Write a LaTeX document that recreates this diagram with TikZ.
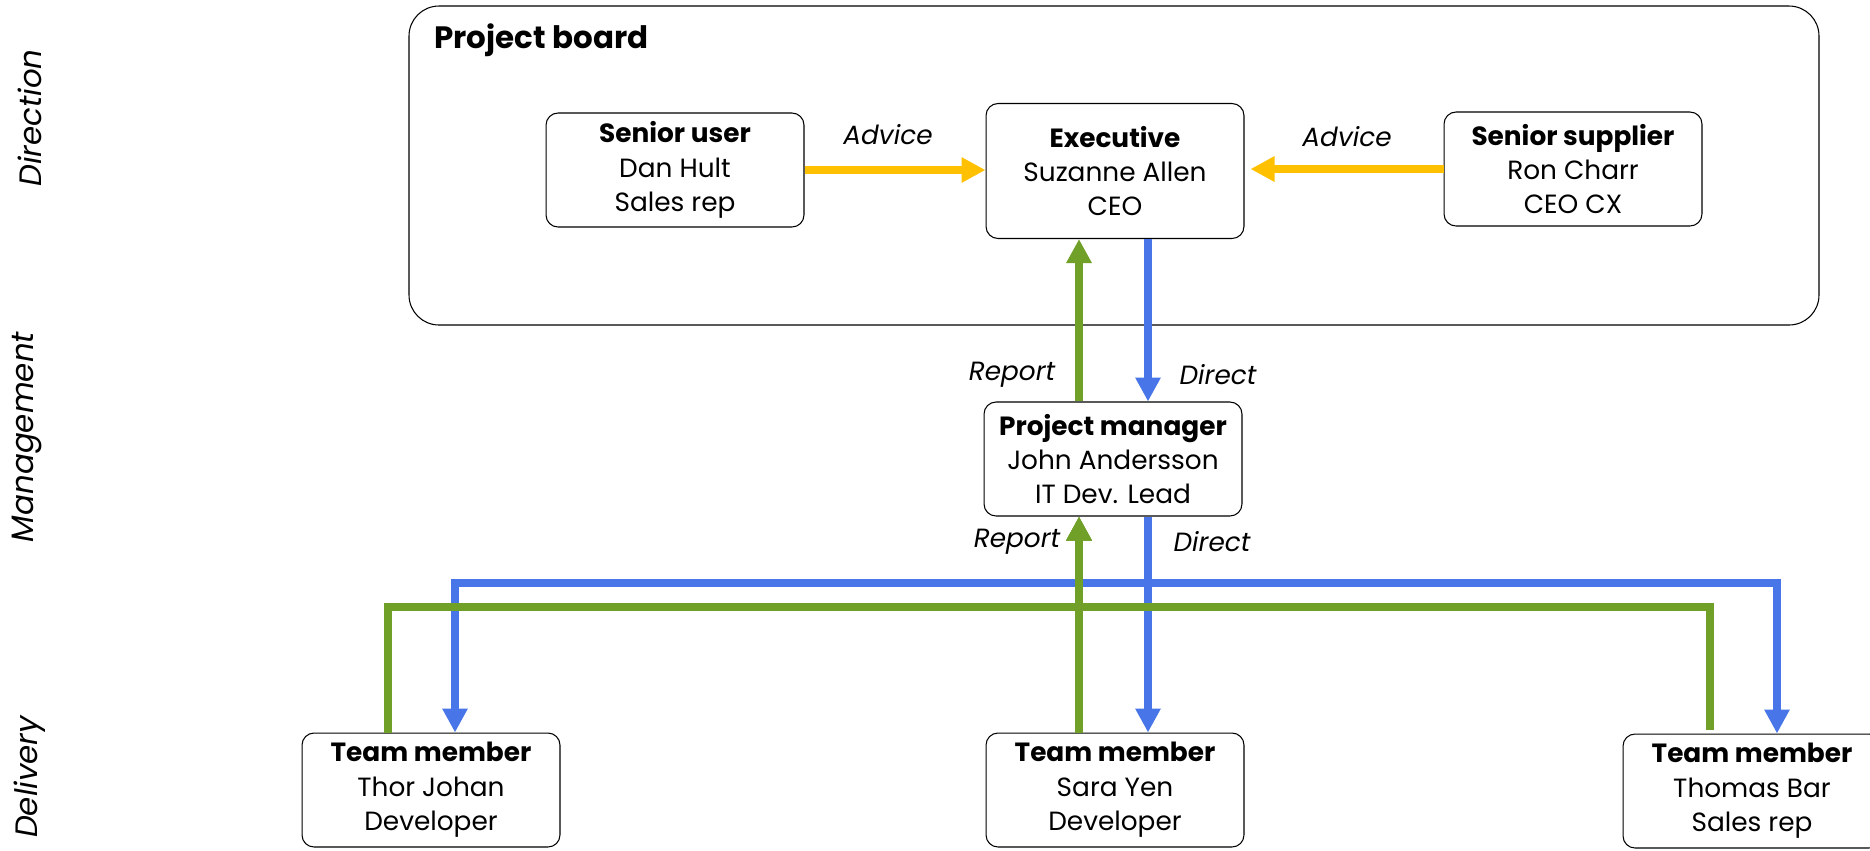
\documentclass[tikz,border=0pt]{standalone}
\usepackage{fontspec}
\setmainfont{Poppins}
\usetikzlibrary{arrows.meta}

\definecolor{advicecol}{RGB}{255,192,0}
\definecolor{reportcol}{RGB}{112,160,40}
\definecolor{directcol}{RGB}{72,118,232}

\begin{document}
\begin{tikzpicture}[x=0.02cm,y=-0.02cm,
    role/.style={draw,line width=0.6pt,rounded corners=0.24cm,align=center,
      minimum width=5.16cm,minimum height=2.28cm,inner sep=0pt,
      font=\fontsize{15}{19.6}\selectfont},
    lbl/.style={font=\fontsize{15}{16}\selectfont\itshape},
    side/.style={rotate=90,font=\fontsize{17.6}{18}\selectfont\itshape},
    link/.style={line width=0.16cm,-{Triangle[length=0.48cm,width=0.48cm]}},
    advice/.style={link,advicecol},
    report/.style={link,reportcol},
    direct/.style={link,directcol}]
    \useasboundingbox (0,0) rectangle (1870,850);

    % layers
    \node[side] (dir) at (30,118) {Direction};
    \node[side] (man) at (27,437) {Management};
    \node[side] (del) at (30,777) {Delivery};

    % project board
    \draw[line width=0.6pt,rounded corners=0.6cm] (409,6) rectangle (1819,325);
    \node[anchor=west,font=\fontsize{17.6}{18}\selectfont\bfseries] (pb) at (428,40) {Project board};

    \node[role] (su) at (675,170) {\textbf{Senior user}\\Dan Hult\\Sales rep};
    \node[role,minimum height=2.7cm] (exec) at (1115,171) {\textbf{Executive}\\Suzanne Allen\\CEO};
    \node[role] (sup) at (1573,169) {\textbf{Senior supplier}\\Ron Charr\\CEO CX};
    \node[role] (pm) at (1113,459) {\textbf{Project manager}\\John Andersson\\IT Dev. Lead};
    \node[role] (tm1) at (431,790) {\textbf{Team member}\\Thor Johan\\Developer};
    \node[role] (tm2) at (1115,790) {\textbf{Team member}\\Sara Yen\\Developer};
    \node[role] (tm3) at (1752,791) {\textbf{Team member}\\Thomas Bar\\Sales rep};

    % line positions
    \coordinate (gx) at (1079,0);
    \coordinate (bx) at (1148,0);
    \coordinate (g1) at (388,0);
    \coordinate (g3) at (1710,0);
    \coordinate (b1) at (455,0);
    \coordinate (b3) at (1777,0);
    \coordinate (gy) at (0,607);
    \coordinate (by) at (0,583);

    \draw[advice] (su.east) -- (su.east -| exec.west);
    \draw[advice] (sup.west) -- ([xshift=0.12cm]sup.west -| exec.east);
    \node[lbl] (adv1) at (888,135) {Advice};
    \node[lbl] (adv2) at (1347,137) {Advice};

    \draw[report] (pm.north -| gx) -- (exec.south -| gx);
    \draw[direct] (exec.south -| bx) -- (pm.north -| bx);
    \node[lbl] (rep1) at (1012,375) {Report};
    \node[lbl] (dir1) at (1218,375) {Direct};

    \draw[direct] (pm.south -| bx) |- (by -| b1) -- (tm1.north -| b1);
    \draw[direct] (pm.south -| bx) |- (by -| b3) -- (tm3.north -| b3);
    \draw[direct] (pm.south -| bx) -- (tm2.north -| bx);
    \draw[report] (tm1.north -| g1) |- (gy -| gx) -- (pm.south -| gx);
    \draw[report] ([yshift=0.08cm]tm3.north -| g3) |- (gy -| gx) -- (pm.south -| gx);
    \draw[report] (tm2.north -| gx) -- (pm.south -| gx);
    \node[lbl] (rep2) at (1017,542) {Report};
    \node[lbl] (dir2) at (1212,542) {Direct};
\end{tikzpicture}
\end{document}
